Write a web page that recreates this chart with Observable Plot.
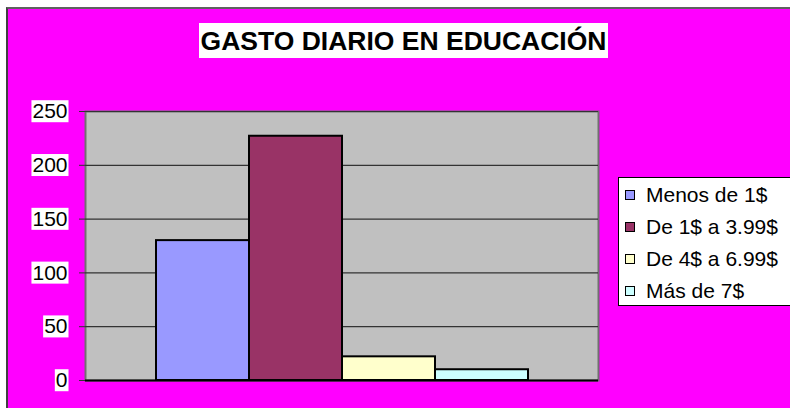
<!DOCTYPE html>
<html>
<head>
<meta charset="utf-8">
<script src="https://cdn.jsdelivr.net/npm/d3@7"></script>
<script src="https://cdn.jsdelivr.net/npm/@observablehq/plot@0.6"></script>
<style>
  html, body { margin: 0; padding: 0; background: #fff; width: 790px; height: 408px; overflow: hidden; font-family: "Liberation Sans", Arial, sans-serif; }
  #wrap { position: absolute; left: 6px; top: 7px; border-left: 2px solid #404040; border-top: 2px solid #606060; }
  #wrap svg { display: block; }
  #title { position: absolute; left: 199px; top: 23px; width: 409px; height: 35px; background: #fff; font-weight: bold; font-size: 26.5px; line-height: 36px; text-align: center; color: #000; white-space: nowrap; }
  #legend { position: absolute; left: 618px; top: 177px; width: 190px; height: 129px; background: #fff; border: 1px solid #000; box-sizing: border-box; padding-top: 1px; }
  .row { height: 32px; display: flex; align-items: center; font-size: 21px; color: #000; white-space: nowrap; }
  .sw { width: 8px; height: 8px; border: 1px solid #000; margin-left: 6px; margin-right: 11px; flex: none; }
</style>
</head>
<body>
<div id="wrap"></div>
<div id="title"></div>
<div id="legend"></div>
<script>
const title = "GASTO DIARIO EN EDUCACIÓN";
const categories = ["Menos de 1$", "De 1$ a 3.99$", "De 4$ a 6.99$", "Más de 7$"];
const values = [130, 227, 22, 10];
const colors = ["#9999FF", "#993366", "#FFFFCC", "#CCFFFF"];
const yTicks = [0, 50, 100, 150, 200, 250];

const data = categories.map((c, i) => ({cat: c, value: values[i]}));

const chart = Plot.plot({
  width: 782,
  height: 399,
  marginLeft: 77,
  marginRight: 192,
  marginTop: 102,
  marginBottom: 28,
  style: {background: "#FF00FF", fontFamily: "'Liberation Sans', Arial, sans-serif", fontSize: "21px", color: "#000", overflow: "visible"},
  x: {domain: categories, paddingInner: 0, paddingOuter: 0.758, axis: null},
  y: {domain: [0, 250], ticks: yTicks, label: null},
  color: {domain: categories, range: colors},
  marks: [
    Plot.frame({fill: "#C0C0C0", stroke: "#707070", strokeWidth: 2}),
    Plot.gridY(yTicks, {stroke: "#333", strokeOpacity: 1, strokeWidth: 1.2}),
    Plot.barY(data, {x: "cat", y: "value", fill: "cat", stroke: "#000", strokeWidth: 2}),
    Plot.ruleY([0], {stroke: "#000", strokeWidth: 2}),
    Plot.axisY(yTicks, {tickSize: 6, tickPadding: 12, stroke: "#333", fill: "#000", fontSize: 21, label: null})
  ]
});
document.getElementById("wrap").appendChild(chart);

// white boxes behind the y tick labels
chart.querySelectorAll('g[aria-label="y-axis tick label"] text').forEach(t => {
  const b = t.getBBox();
  const r = document.createElementNS("http://www.w3.org/2000/svg", "rect");
  r.setAttribute("x", b.x - 1);
  r.setAttribute("y", b.y + 1);
  r.setAttribute("width", b.width + 2);
  r.setAttribute("height", b.height - 1);
  r.setAttribute("fill", "#fff");
  const tr = t.getAttribute("transform");
  if (tr) r.setAttribute("transform", tr);
  t.parentNode.insertBefore(r, t);
});

document.getElementById("title").textContent = title;
const legend = d3.select("#legend");
categories.forEach((c, i) => {
  const row = legend.append("div").attr("class", "row");
  row.append("div").attr("class", "sw").style("background", colors[i]);
  row.append("span").text(c);
});
</script>
</body>
</html>
